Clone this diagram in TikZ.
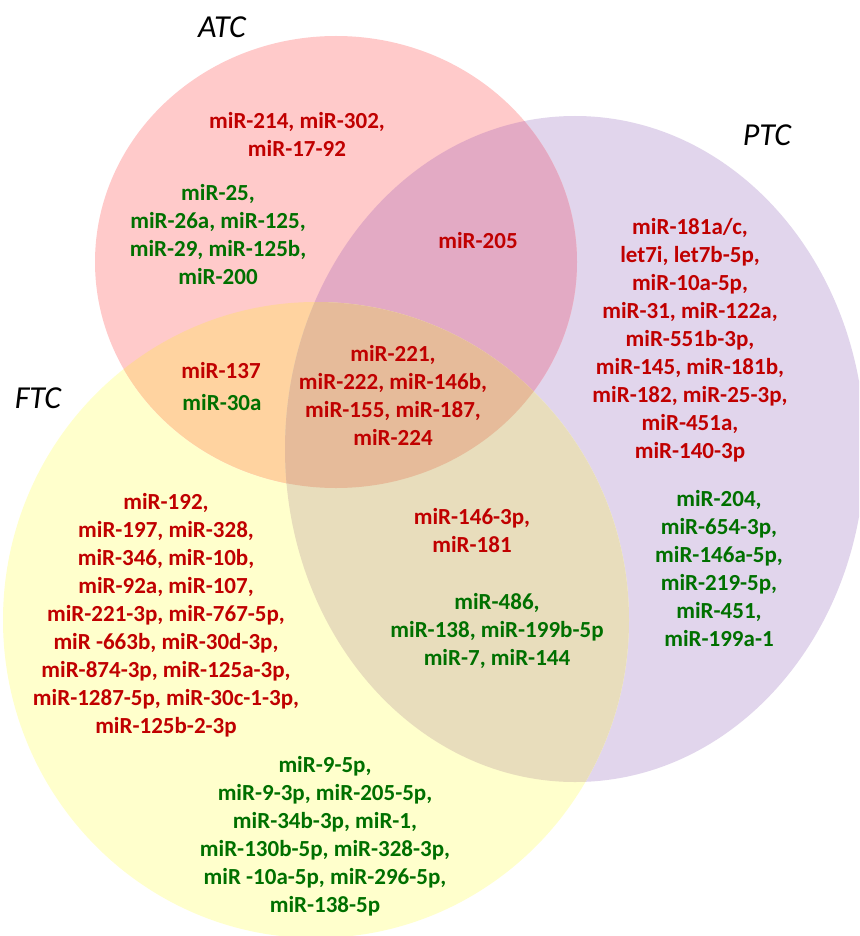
\documentclass[tikz,border=0pt]{standalone}
\usepackage{fontspec}
\setmainfont{Carlito}
\usepackage{tikz}
\definecolor{atcfill}{RGB}{255,202,202}
\definecolor{ptcfill}{RGB}{225,213,236}
\definecolor{ftcfill}{RGB}{255,255,204}
\definecolor{atcptc}{RGB}{227,170,196}
\definecolor{atcftc}{RGB}{255,211,160}
\definecolor{ptcftc}{RGB}{232,221,188}
\definecolor{allthree}{RGB}{230,187,154}
\definecolor{mirred}{RGB}{192,0,0}
\definecolor{mirgreen}{RGB}{0,112,0}
\tikzstyle{title}=[font=\fontsize{32}{38}\selectfont\itshape, text=black]
\tikzstyle{mirs}=[align=center, inner sep=0pt, font=\fontsize{23}{28}\selectfont\bfseries]
\tikzstyle{up}=[mirs, text=mirred]
\tikzstyle{down}=[mirs, text=mirgreen]
\tikzstyle{atcsize}=[x radius=241pt, y radius=226pt]
\tikzstyle{ptcsize}=[x radius=290pt, y radius=333pt]
\tikzstyle{ftcsize}=[x radius=313pt, y radius=318pt]
\begin{document}
\begin{tikzpicture}[x=1pt, y=-1pt]
    \clip (0,0) rectangle (859,936);
    \fill [white] (0,0) rectangle (859,936);
    \coordinate (atc) at (336,262);
    \coordinate (ptc) at (575,449);
    \coordinate (ftc) at (316,620);
    % the three sets
    \fill [ptcfill] (ptc) ellipse [ptcsize];
    \fill [ftcfill] (ftc) ellipse [ftcsize];
    \fill [atcfill] (atc) ellipse [atcsize];
    % pairwise overlaps
    \begin{scope}
        \clip (atc) ellipse [atcsize];
        \fill [atcptc] (ptc) ellipse [ptcsize];
        \fill [atcftc] (ftc) ellipse [ftcsize];
    \end{scope}
    \begin{scope}
        \clip (ptc) ellipse [ptcsize];
        \fill [ptcftc] (ftc) ellipse [ftcsize];
        \clip (ftc) ellipse [ftcsize];
        \fill [allthree] (atc) ellipse [atcsize];
    \end{scope}
    % labels
    \node [title] (ATC) at (222,27) {ATC};
    \node [title] (PTC) at (767,135) {PTC};
    \node [title] (FTC) at (38,398) {FTC};
    % ATC only
    \node [up] (atcup) at (297,134) {miR-214, miR-302,\\miR-17-92};
    \node [down] (atcdown) at (218,235) {miR-25,\\miR-26a, miR-125,\\miR-29, miR-125b,\\miR-200};
    % ATC and PTC
    \node [up] (atcptcup) at (478,241) {miR-205};
    % ATC and FTC
    \node [up] (atcftcup) at (221,371) {miR-137};
    \node [down] (atcftcdown) at (222,403) {miR-30a};
    % all three
    \node [up] (allup) at (393,395) {miR-221,\\miR-222, miR-146b,\\miR-155, miR-187,\\miR-224};
    % PTC only
    \node [up] (ptcup) at (690,340) {miR-181a/c,\\let7i, let7b-5p,\\miR-10a-5p,\\miR-31, miR-122a,\\miR-551b-3p,\\miR-145, miR-181b,\\miR-182, miR-25-3p,\\miR-451a,\\miR-140-3p};
    \node [down] (ptcdown) at (719,569) {miR-204,\\miR-654-3p,\\miR-146a-5p,\\miR-219-5p,\\miR-451,\\miR-199a-1};
    % PTC and FTC
    \node [up] (ptcftcup) at (472,531) {miR-146-3p,\\miR-181};
    \node [down] (ptcftcdown) at (497,631) {miR-486,\\miR-138, miR-199b-5p\\miR-7, miR-144};
    % FTC only
    \node [up] (ftcup) at (166,615) {miR-192,\\miR-197, miR-328,\\miR-346, miR-10b,\\miR-92a, miR-107,\\miR-221-3p, miR-767-5p,\\miR -663b, miR-30d-3p,\\miR-874-3p, miR-125a-3p,\\miR-1287-5p, miR-30c-1-3p,\\miR-125b-2-3p};
    \node [down] (ftcdown) at (325,836) {miR-9-5p,\\miR-9-3p, miR-205-5p,\\miR-34b-3p, miR-1,\\miR-130b-5p, miR-328-3p,\\miR -10a-5p, miR-296-5p,\\miR-138-5p};
\end{tikzpicture}
\end{document}
